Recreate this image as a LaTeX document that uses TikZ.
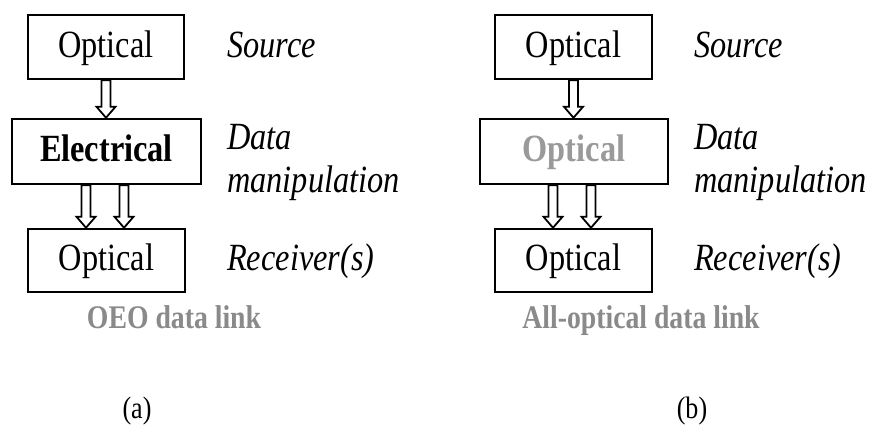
\documentclass[tikz,border=0pt]{standalone}
\usepackage{fontspec}
\setmainfont{Liberation Serif}[FakeStretch=0.84]
\usetikzlibrary{calc}
\definecolor{capgray}{HTML}{8A8A8A}
\definecolor{optgray}{HTML}{9A9A9A}
\tikzset{
  box/.style={draw, line width=2.5pt, inner sep=0pt, text height=27pt, text depth=6pt,
    font=\fontsize{38.5}{40}\selectfont},
  lab/.style={anchor=base west, inner sep=0pt, font=\fontsize{38.5}{40}\selectfont\itshape},
  captext/.style={anchor=base, inner sep=0pt, font=\fontsize{33}{36}\selectfont\bfseries, text=capgray},
  subtext/.style={anchor=base, inner sep=0pt, font=\fontsize{31}{34}\selectfont},
  harrowstyle/.style={draw, line width=1.8pt, fill=white, line join=miter}
}
\newcommand{\harrow}[2]{\path[harrowstyle] let \p1=(#1), \p2=(#2) in
  (\x1-4.5pt,\y1) -- (\x1-4.5pt,\y2+11pt) -- (\x1-9.5pt,\y2+11pt) -- (\x1,\y2)
  -- (\x1+9.5pt,\y2+11pt) -- (\x1+4.5pt,\y2+11pt) -- (\x1+4.5pt,\y1) -- cycle;}
\begin{document}
\begin{tikzpicture}[x=1pt,y=-1pt]
\useasboundingbox[fill=white] (0,0) rectangle (875,446);
% left panel
\node[box, minimum width=156pt, minimum height=64pt] (lt) at (106,47) {Optical};
\node[box, minimum width=189pt, minimum height=65pt] (lm) at (106.5,151.5) {\bfseries Electrical};
\node[box, minimum width=157pt, minimum height=63pt] (lb) at (106.5,260.5) {Optical};
\harrow{lt.south}{lm.north}
\harrow{[xshift=-20.5pt]lm.south}{[xshift=-20.5pt]lb.north}
\harrow{[xshift=17.5pt]lm.south}{[xshift=17.5pt]lb.north}
\node[lab] (ls) at (227,58) {Source};
\node[lab] (ld1) at (227,150) {Data};
\node[lab] (ld2) at (227,193) {manipulation};
\node[lab] (lr) at (227,271) {Receiver(s)};
\node[captext] (lc) at (174,328) {OEO data link};
\node[subtext] (la) at (137,418) {(a)};
% right panel
\node[box, minimum width=157pt, minimum height=64pt] (rt) at (573.5,47) {Optical};
\node[box, minimum width=188pt, minimum height=65pt] (rm) at (574,151.5) {\bfseries\color{optgray}Optical};
\node[box, minimum width=157pt, minimum height=63pt] (rb) at (573.5,260.5) {Optical};
\harrow{rt.south}{rm.north}
\harrow{[xshift=-21pt]rm.south}{[xshift=-21pt]rb.north}
\harrow{[xshift=17pt]rm.south}{[xshift=17pt]rb.north}
\node[lab] (rs) at (694,58) {Source};
\node[lab] (rd1) at (694,150) {Data};
\node[lab] (rd2) at (694,193) {manipulation};
\node[lab] (rr) at (694,271) {Receiver(s)};
\node[captext] (rc) at (641,328) {All-optical data link};
\node[subtext] (rbl) at (692,418) {(b)};
\end{tikzpicture}
\end{document}
